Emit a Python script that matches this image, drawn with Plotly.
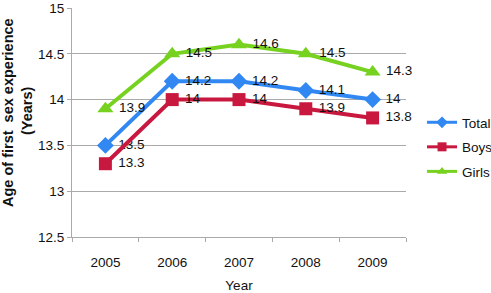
import plotly.graph_objects as go

years = ["2005", "2006", "2007", "2008", "2009"]
total = [13.5, 14.2, 14.2, 14.1, 14.0]
boys = [13.3, 14.0, 14.0, 13.9, 13.8]
girls = [13.9, 14.5, 14.6, 14.5, 14.3]
y_ticks = [12.5, 13, 13.5, 14, 14.5, 15]

series = [
    ("Total", total, "#3288f2", "diamond", 13),
    ("Boys", boys, "#c8183f", "square", 13),
    ("Girls", girls, "#76d21f", "triangle-up", 14),
]

fig = go.Figure()
for i, (name, vals, color, sym, size) in enumerate(series):
    fig.add_trace(go.Scatter(
        x=years, y=vals, name=name, mode="lines+markers+text",
        text=["\u00a0" + f"{v:g}" for v in vals], textposition="middle right",
        textfont=dict(size=13.5, color="#111"),
        line=dict(color=color, width=4),
        marker=dict(symbol=sym, size=size, color=color),
        showlegend=False, cliponaxis=False,
    ))
# legend entries with smaller symbols, as in the reference
for i, (name, vals, color, sym, size) in enumerate(series):
    fig.add_trace(go.Scatter(
        x=[None], y=[None], name=name, mode="lines+markers",
        line=dict(color=color, width=3),
        marker=dict(symbol=sym, size=9, color=color),
        legendgroup=name, showlegend=True,
    ))

fig.add_annotation(
    text="<b>Age of first  sex experience</b>",
    xref="paper", yref="paper", x=-0.19, y=0.544, xanchor="center", yanchor="middle",
    textangle=-90, showarrow=False, font=dict(size=14.5, color="#111"),
)
fig.add_annotation(
    text="<b>(Years)</b>",
    xref="paper", yref="paper", x=-0.1347, y=0.55, xanchor="center", yanchor="middle",
    textangle=-90, showarrow=False, font=dict(size=14.5, color="#111"),
)

fig.update_layout(
    width=491, height=293,
    margin=dict(l=72, r=85, t=8, b=56, autoexpand=False),
    paper_bgcolor="white", plot_bgcolor="white",
    font=dict(family="Liberation Sans, Arial, sans-serif", size=13.5, color="#111"),
    showlegend=True,
    legend=dict(x=1.048, y=0.393, xanchor="left", yanchor="middle",
                tracegroupgap=4, font=dict(size=13.5), itemwidth=30),
    xaxis=dict(
        type="category", range=[-0.5, 4.5], automargin=False,
        showline=True, linecolor="#aaa", linewidth=1,
        ticks="outside", ticklen=4, tickcolor="#aaa", tickson="boundaries",
        ticklabelstandoff=13,
        showgrid=False,
        title=dict(text="Year", standoff=12, font=dict(size=13.5)),
    ),
    yaxis=dict(
        range=[12.5, 15], tickvals=y_ticks, automargin=False,
        ticktext=[f"{v:g}" for v in y_ticks],
        showline=True, linecolor="#aaa", linewidth=1,
        ticks="outside", ticklen=4, tickcolor="#aaa",
        showgrid=True, gridcolor="#aaa", gridwidth=1,
        zeroline=False,
    ),
)

fig.write_html("out.html", config={"displayModeBar": False},
               post_script="document.body.style.margin='0px';")
